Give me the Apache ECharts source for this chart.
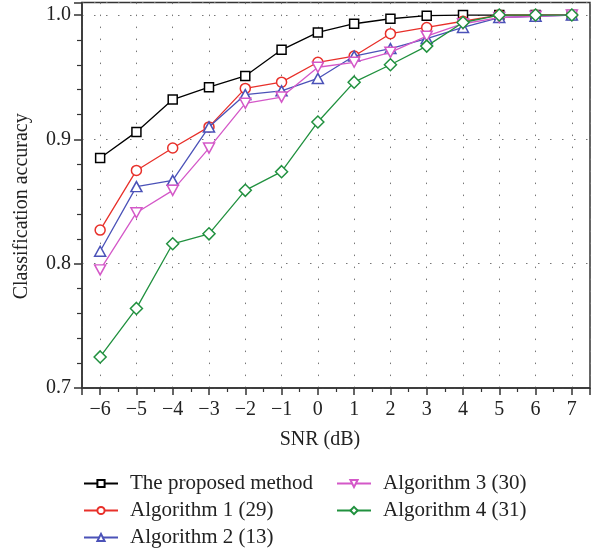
<!DOCTYPE html>
<html><head><meta charset="utf-8">
<script src="https://cdn.jsdelivr.net/npm/echarts@6/dist/echarts.min.js"></script>
<style>html,body{margin:0;padding:0;background:#fff}#c{width:593px;height:548px}</style>
</head><body><div id="c"></div>
<script>
const snr = [-6,-5,-4,-3,-2,-1,0,1,2,3,4,5,6,7];
const proposed = [0.885,0.906,0.932,0.942,0.951,0.972,0.986,0.993,0.997,0.9995,1.0,1.0,1.0,1.0];
const alg1 = [0.827,0.875,0.893,0.910,0.941,0.946,0.962,0.967,0.985,0.990,0.995,1.0,1.0,1.0];
const alg2 = [0.810,0.862,0.867,0.910,0.936,0.939,0.949,0.967,0.973,0.981,0.990,0.998,0.999,1.0];
const alg3 = [0.795,0.841,0.859,0.893,0.929,0.934,0.958,0.962,0.970,0.983,0.993,0.998,0.999,1.0];
const alg4 = [0.725,0.764,0.816,0.824,0.859,0.874,0.914,0.946,0.960,0.975,0.994,1.0,1.0,1.0];
const names = ['The proposed method','Algorithm 1 (29)','Algorithm 2 (13)','Algorithm 3 (30)','Algorithm 4 (31)'];
const yTicks = [0.7,0.8,0.9,1.0];

const colors = ['#000000','#e8302a','#4b52b8','#d458c8','#21913f'];
const symbols = ['rect','circle','triangle','triangle','diamond'];
const symSizes = [9,10,[11,10],[11,10],12];
const symRot = [0,0,0,180,0];
const FONT = '"Liberation Serif", "DejaVu Serif", serif';

const allData = [proposed, alg1, alg2, alg3, alg4];
const series = allData.map((vals, i) => ({
  name: names[i],
  type: 'line',
  data: snr.map((x, k) => [x, vals[k]]),
  symbol: symbols[i],
  symbolSize: symSizes[i],
  symbolRotate: symRot[i],
  showAllSymbol: true,
  lineStyle: {color: colors[i], width: 1.3},
  itemStyle: {color: '#fff', borderColor: colors[i], borderWidth: 1.5},
  z: 2 + i
}));

const chart = echarts.init(document.getElementById('c'), null, {renderer: 'canvas'});
const legendCommon = {
  orient: 'vertical', itemWidth: 34, itemHeight: 9, itemGap: 6, padding: 0, height: 80,
  textStyle: {fontFamily: FONT, fontSize: 21, color: '#222', lineHeight: 20, padding: [0,0,0,7]}
};
chart.setOption({
  animation: false,
  grid: {left: 82, top: 2.6, width: 516.6, height: 385.4, show: true, borderColor: '#333', borderWidth: 1.5},
  legend: [
    Object.assign({left: 83, top: 473, data: names.slice(0,3)}, legendCommon),
    Object.assign({left: 336, top: 473, data: names.slice(3)}, legendCommon)
  ],
  xAxis: {
    type: 'value', min: -6.5, max: 7.5, splitNumber: 14,
    axisLine: {onZero: false, lineStyle: {color: '#333', width: 1.5}},
    axisTick: {length: 7, lineStyle: {color: '#333', width: 1.5}},
    minorTick: {show: true, splitNumber: 2, length: 4, lineStyle: {color: '#333', width: 1.2}},
    axisLabel: {
      formatter: v => snr.includes(v) ? String(v).replace('-', '\u2212') : '',
      fontFamily: FONT, fontSize: 20, color: '#222', margin: 12
    },
    splitLine: {show: true, lineStyle: {type: [1.5, 10.5], color: '#777', width: 1}},
    name: 'SNR (dB)', nameLocation: 'middle', nameGap: 42,
    nameTextStyle: {fontFamily: FONT, fontSize: 20, color: '#222', padding: [0, 32, 0, 0]}
  },
  yAxis: {
    type: 'value', min: 0.7, max: 1.01, interval: 0.1,
    axisLine: {show: true, onZero: false, lineStyle: {color: '#333', width: 1.5}},
    axisTick: {show: true, length: 8, lineStyle: {color: '#333', width: 1.5}},
    minorTick: {show: true, splitNumber: 5, length: 5, lineStyle: {color: '#333', width: 1.2}},
    axisLabel: {
      formatter: v => yTicks.some(t => Math.abs(t - v) < 1e-6) ? v.toFixed(1) : '',
      fontFamily: FONT, fontSize: 20, color: '#222', margin: 11
    },
    splitLine: {show: true, lineStyle: {type: [1.5, 10.5], color: '#777', width: 1}},
    name: 'Classification accuracy', nameLocation: 'middle', nameGap: 50,
    nameTextStyle: {fontFamily: FONT, fontSize: 20, color: '#222', padding: [0, 22, 0, 0]}
  },
  series: series
});
</script>
</body></html>
